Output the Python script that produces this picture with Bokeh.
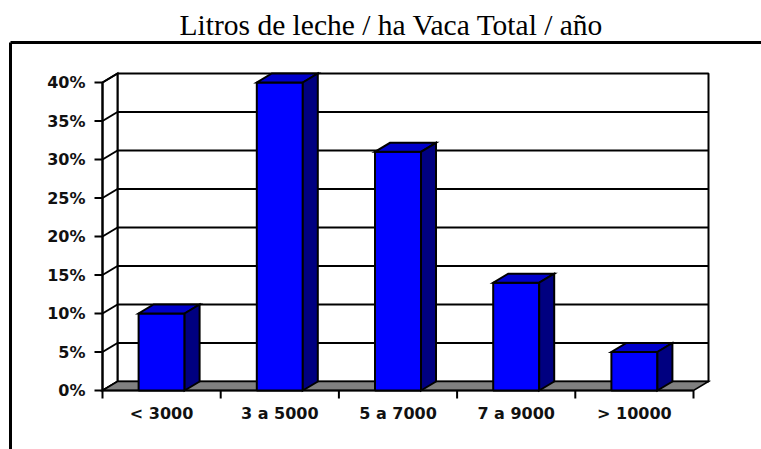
from bokeh.plotting import figure
from bokeh.models import Range1d
from bokeh.core.properties import value
from bokeh.embed import file_html
from bokeh.resources import INLINE

# ---------------- data ----------------
TITLE = "Litros de leche / ha Vaca Total / año"
categories = ["< 3000", "3 a 5000", "5 a 7000", "7 a 9000", "> 10000"]
shares = [10, 40, 31, 14, 5]          # percent of farms
y_ticks = [0, 5, 10, 15, 20, 25, 30, 35, 40]
y_tick_labels = ["0%", "5%", "10%", "15%", "20%", "25%", "30%", "35%", "40%"]

# ---------------- geometry / style ----------------
W, H = 761, 449
PX_CAT = 118.2     # pixels per category
PX_PCT = 7.7       # pixels per percent
OX, OY = 102, 390  # figure-pixel position of the front (0, 0%) corner
DX = 15 / PX_CAT   # 3-D depth offset (x, in category units)
DY = 9 / PX_PCT    # 3-D depth offset (y, in percent units)
BW = 46 / PX_CAT   # bar width
N = len(categories)
YMAX = y_ticks[-1]


def fx(px):
    return (px - OX) / PX_CAT


def fy(py):
    return (OY - py) / PX_PCT


p = figure(width=W, height=H,
           x_range=Range1d(fx(0), fx(W)), y_range=Range1d(fy(H), fy(0)),
           output_backend="svg", toolbar_location=None,
           x_axis_type=None, y_axis_type=None,
           min_border_left=0, min_border_right=0, min_border_top=0, min_border_bottom=0)
p.grid.visible = False
p.outline_line_color = None
p.background_fill_color = "white"
p.border_fill_color = "white"

LW = 2

# chart-area border (top and left edges)
p.line([fx(10), fx(W + 5)], [fy(42), fy(42)], line_color="black", line_width=3)
p.line([fx(10), fx(10)], [fy(42), fy(H + 5)], line_color="black", line_width=3)

# title
p.text(x=[fx(391)], y=[fy(24)], text=[TITLE], text_font=value("Liberation Serif"),
       text_font_size="29.5px", text_align="center", text_baseline="middle",
       text_color="black")

# back wall
p.quad(left=[DX], right=[N + DX], bottom=[DY], top=[YMAX + DY],
       fill_color="white", line_color="black", line_width=LW)
# back-wall gridlines
p.multi_line(xs=[[DX, N + DX] for v in y_ticks[1:-1]],
             ys=[[v + DY, v + DY] for v in y_ticks[1:-1]],
             line_color="black", line_width=LW)
# side wall
p.patch([0, DX, DX, 0], [0, DY, YMAX + DY, YMAX], fill_color="white",
        line_color="black", line_width=LW, line_join="miter")
p.multi_line(xs=[[0, DX] for v in y_ticks], ys=[[v, v + DY] for v in y_ticks],
             line_color="black", line_width=LW)
# floor
p.patch([0, N, N + DX, DX], [0, 0, DY, DY], fill_color="#808080",
        line_color="black", line_width=1.5, line_join="miter")

# front y axis line, ticks, labels
p.line([0, 0], [0, YMAX], line_color="black", line_width=LW)
p.multi_line(xs=[[-8 / PX_CAT, 0] for v in y_ticks], ys=[[v, v] for v in y_ticks],
             line_color="black", line_width=LW)
p.text(x=[-17 / PX_CAT] * len(y_ticks), y=y_ticks, text=y_tick_labels,
       text_font=value("DejaVu Sans"), text_font_style="bold", text_font_size="16px",
       text_align="right", text_baseline="middle", y_offset=0, text_color="#111111")

# x axis line, ticks, labels
p.line([0, N], [0, 0], line_color="black", line_width=LW)
p.multi_line(xs=[[i, i] for i in range(N + 1)],
             ys=[[0, -8 / PX_PCT] for i in range(N + 1)],
             line_color="black", line_width=LW)
p.text(x=[i + 0.5 for i in range(N)], y=[0] * N, text=categories,
       text_font=value("DejaVu Sans"), text_font_style="bold", text_font_size="16px",
       text_align="center", text_baseline="middle", y_offset=23, text_color="#111111")

# bars (front, top, side)
lefts = [i + 0.5 - BW / 2 for i in range(N)]
rights = [i + 0.5 + BW / 2 for i in range(N)]
p.quad(left=lefts, right=rights, bottom=[0] * N, top=shares,
       fill_color="#0000FF", line_color="black", line_width=LW)
p.patches(xs=[[l, r, r + DX, l + DX] for l, r in zip(lefts, rights)],
          ys=[[v, v, v + DY, v + DY] for v in shares],
          fill_color="#0000CC", line_color="black", line_width=LW, line_join="miter")
p.patches(xs=[[r, r + DX, r + DX, r] for r in rights],
          ys=[[0, DY, v + DY, v] for v in shares],
          fill_color="#000080", line_color="black", line_width=LW, line_join="miter")

open("out.html", "w").write(file_html(p, INLINE))
